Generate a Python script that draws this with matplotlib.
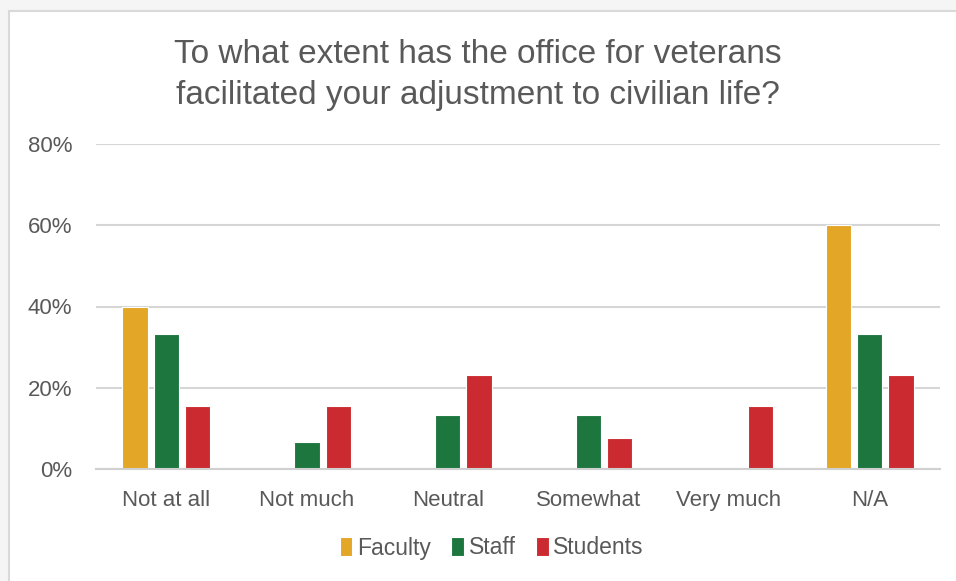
import numpy as np
import matplotlib.pyplot as plt
from matplotlib.patches import Rectangle
from matplotlib.ticker import FuncFormatter

categories = ["Not at all", "Not much", "Neutral", "Somewhat", "Very much", "N/A"]
faculty = [0.40, 0.0, 0.0, 0.0, 0.0, 0.60]
staff = [0.333, 0.067, 0.133, 0.133, 0.0, 0.333]
students = [0.154, 0.154, 0.231, 0.077, 0.154, 0.231]
series = ["Faculty", "Staff", "Students"]
colors = ["#E3A626", "#1D763E", "#CB2B30"]

plt.rcParams["font.family"] = ["Liberation Sans", "DejaVu Sans"]
text_color = "#595959"

fig = plt.figure(figsize=(9.56, 5.81), dpi=100)
fig.patch.set_facecolor("#F5F5F5")
# white chart card with a thin grey edge
fig.patches.append(Rectangle((9 / 956, -0.01), 1, 1 - 11 / 581 + 0.01, transform=fig.transFigure,
                             facecolor="white", edgecolor="#D9D9D9", linewidth=1.5, zorder=-10))

ax = fig.add_axes([96 / 956, (581 - 469) / 581, (940 - 96) / 956, (469 - 144) / 581])
ax.patch.set_alpha(0)

x = np.arange(len(categories))
width = 0.18
step = 0.222
for i, (name, vals, c) in enumerate(zip(series, [faculty, staff, students], colors)):
    ax.bar(x + (i - 1) * step, vals, width, color=c, label=name,
           edgecolor="white", linewidth=0.8, zorder=3)

ax.set_xlim(-0.5, len(categories) - 0.5)
ax.set_ylim(0, 0.8)
ax.set_yticks([0, 0.2, 0.4, 0.6, 0.8])
ax.yaxis.set_major_formatter(FuncFormatter(lambda v, _: f"{v:.0%}"))
ax.set_xticks(x)
ax.set_xticklabels(categories)
ax.tick_params(axis="both", length=0, labelsize=16, labelcolor=text_color)
ax.tick_params(axis="x", pad=15)
ax.tick_params(axis="y", pad=17)
ax.grid(axis="y", color="#D6D6D6", linewidth=1.5, zorder=0)
for s in ["top", "right", "left"]:
    ax.spines[s].set_visible(False)
ax.spines["bottom"].set_color("#D0D0D0")
ax.spines["bottom"].set_linewidth(1.5)
ax.spines["bottom"].set_zorder(4)

fig.text(0.5, 1 - 75 / 581, "To what extent has the office for veterans\nfacilitated your adjustment to civilian life?",
         ha="center", va="center", fontsize=24, color=text_color, linespacing=1.38)

ax.legend(loc="center", bbox_to_anchor=(0.469, (469 - 548) / 325), ncol=3, frameon=False,
          fontsize=16.5, labelcolor=text_color, handlelength=0.55, handleheight=0.85,
          handletextpad=0.2, columnspacing=0.9)

fig.savefig("out.png", dpi=100, facecolor=fig.get_facecolor())
